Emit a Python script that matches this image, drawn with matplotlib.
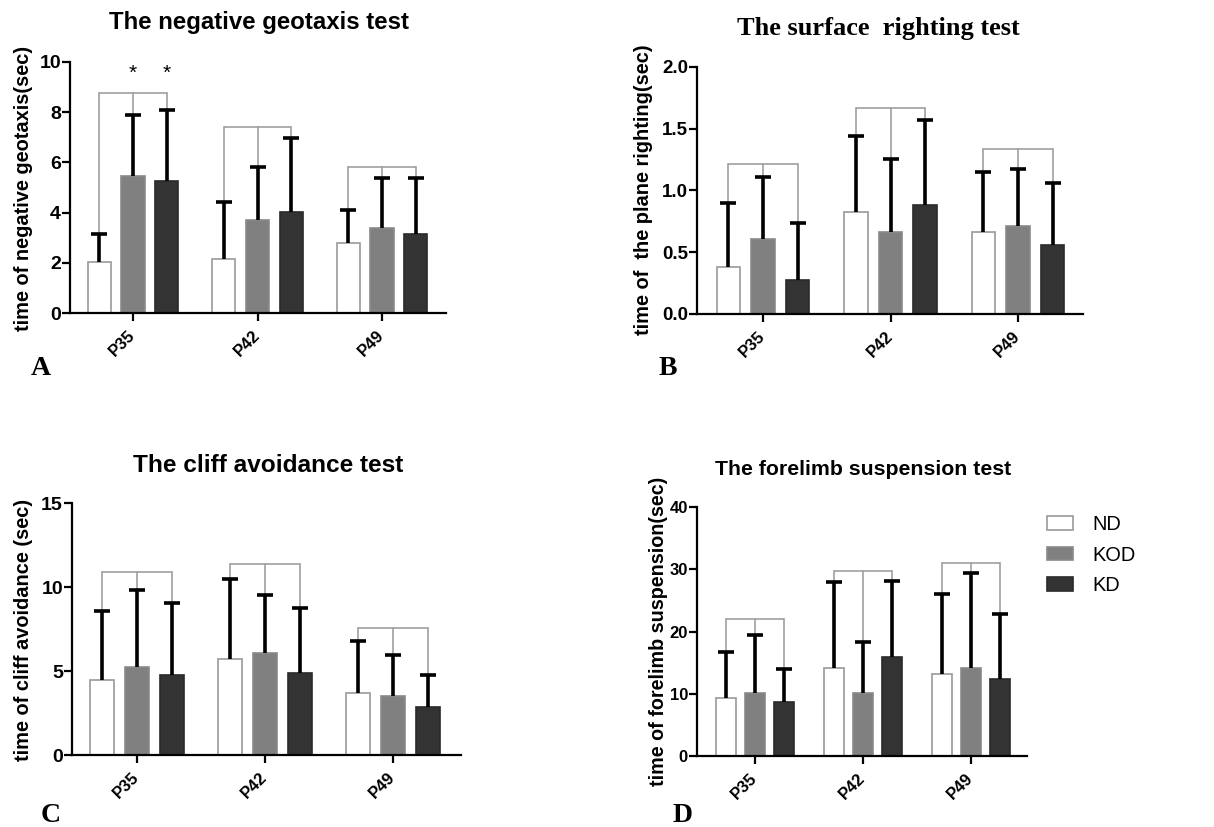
import numpy as np
import matplotlib
matplotlib.use("Agg")
import matplotlib.pyplot as plt
from matplotlib.patches import Patch

plt.rcParams['font.family'] = ['Liberation Sans', 'DejaVu Sans']

groups = ['P35', 'P42', 'P49']
series = ['ND', 'KOD', 'KD']

# Panel A: negative geotaxis
geo_mean = {'ND': [2.03, 2.16, 2.80], 'KOD': [5.47, 3.71, 3.37], 'KD': [5.25, 4.04, 3.15]}
geo_sd = {'ND': [1.12, 2.26, 1.29], 'KOD': [2.43, 2.09, 2.01], 'KD': [2.85, 2.92, 2.23]}
geo_bracket = [8.78, 7.42, 5.83]

# Panel B: surface righting
sr_mean = {'ND': [0.383, 0.827, 0.663], 'KOD': [0.609, 0.663, 0.714], 'KD': [0.275, 0.881, 0.556]}
sr_sd = {'ND': [0.512, 0.615, 0.485], 'KOD': [0.501, 0.596, 0.464], 'KD': [0.464, 0.688, 0.507]}
sr_bracket = [1.216, 1.668, 1.337]

# Panel C: cliff avoidance
ca_mean = {'ND': [4.47, 5.74, 3.72], 'KOD': [5.21, 6.10, 3.54], 'KD': [4.77, 4.87, 2.84]}
ca_sd = {'ND': [4.13, 4.73, 3.04], 'KOD': [4.59, 3.42, 2.42], 'KD': [4.27, 3.87, 1.93]}
ca_bracket = [10.89, 11.35, 7.53]

# Panel D: forelimb suspension
fs_mean = {'ND': [9.36, 14.12, 13.16], 'KOD': [10.11, 10.11, 14.12], 'KD': [8.61, 15.83, 12.41]}
fs_sd = {'ND': [7.32, 13.79, 12.88], 'KOD': [9.36, 8.13, 15.29], 'KD': [5.40, 12.30, 10.37]}
fs_bracket = [21.98, 29.79, 30.96]

star_marks = [('KOD', 0, 9.55), ('KD', 0, 9.55)]

colors = {'ND': '#ffffff', 'KOD': '#808080', 'KD': '#333333'}
edges = {'ND': '#9a9a9a', 'KOD': '#8a8a8a', 'KD': '#2a2a2a'}

W, H = 1214, 827
fig = plt.figure(figsize=(W / 100, H / 100), dpi=100)


def px_axes(l, t, r, b):
    return fig.add_axes([l / W, 1 - b / H, (r - l) / W, (b - t) / H])


def draw_panel(ax, means, sds, brackets, ylim, yticks, yticklabels, xlim, ytick_fs=14):
    x = np.arange(len(groups))
    off = 0.272
    width = 0.185
    for i, s in enumerate(series):
        xs = x + (i - 1) * off
        m = np.array(means[s])
        e = np.array(sds[s])
        bc = ax.bar(xs, m, width, color=colors[s], edgecolor=edges[s], linewidth=1.2, zorder=2,
                    yerr=[np.zeros_like(e), e],
                    error_kw=dict(ecolor='black', elinewidth=2.6, capsize=6, capthick=2.6, zorder=3))
        # hide the cap that sits on the bar top (only upper error shown)
        for cl in bc.errorbar.lines[1]:
            if np.allclose(cl.get_ydata(), m):
                cl.set_visible(False)
    for g in range(len(groups)):
        h = brackets[g]
        xs = g + (np.arange(3) - 1) * off
        ax.plot([xs[0], xs[2]], [h, h], color='#a0a0a0', lw=1.2, zorder=1, solid_capstyle='butt')
        for i, s in enumerate(series):
            top = means[s][g] + sds[s][g]
            ax.plot([xs[i], xs[i]], [top, h], color='#a0a0a0', lw=1.2, zorder=1)
    ax.set_xlim(*xlim)
    ax.set_ylim(*ylim)
    ax.set_yticks(yticks)
    ax.set_yticklabels(yticklabels, fontsize=ytick_fs, fontweight='bold')
    ax.set_xticks(x)
    ax.set_xticklabels(groups, rotation=45, ha='right', va='center', rotation_mode='anchor',
                       fontsize=12, fontweight='bold')
    for sp in ['top', 'right']:
        ax.spines[sp].set_visible(False)
    for sp in ['left', 'bottom']:
        ax.spines[sp].set_linewidth(1.6)
    ax.tick_params(axis='both', direction='out', length=5.5, width=1.6)
    ax.tick_params(axis='y', pad=1)
    ax.tick_params(axis='x', pad=9)
    ax.patch.set_alpha(0)


axA = px_axes(70, 62, 446, 313)
draw_panel(axA, geo_mean, geo_sd, geo_bracket, (0, 10), [0, 2, 4, 6, 8, 10],
           ['0', '2', '4', '6', '8', '10'], (-0.506, 2.514))
for s, g, yv in star_marks:
    axA.text(g + (series.index(s) - 1) * 0.272, yv, '*', ha='center', va='center', fontsize=15)

axB = px_axes(697, 67, 1083, 314)
draw_panel(axB, sr_mean, sr_sd, sr_bracket, (0, 2.0), [0, 0.5, 1.0, 1.5, 2.0],
           ['0.0', '0.5', '1.0', '1.5', '2.0'], (-0.518, 2.51), ytick_fs=13.5)

axC = px_axes(72, 503, 461, 755)
draw_panel(axC, ca_mean, ca_sd, ca_bracket, (0, 15), [0, 5, 10, 15],
           ['0', '5', '10', '15'], (-0.508, 2.53))

axD = px_axes(697, 507, 1027, 756)
draw_panel(axD, fs_mean, fs_sd, fs_bracket, (0, 40), [0, 10, 20, 30, 40],
           ['0', '10', '20', '30', '40'], (-0.537, 2.519), ytick_fs=12)

# Titles
fig.text(259 / W, 1 - 22 / H, 'The negative geotaxis test', ha='center', va='center',
         fontsize=17.3, fontweight='bold')
fig.text(878 / W, 1 - 29 / H, 'The surface  righting test', ha='center', va='center',
         fontsize=19, fontweight='bold', family=['Liberation Serif', 'DejaVu Serif'])
fig.text(268 / W, 1 - 465 / H, 'The cliff avoidance test', ha='center', va='center',
         fontsize=17.6, fontweight='bold')
fig.text(863 / W, 1 - 469 / H, 'The forelimb suspension test', ha='center', va='center',
         fontsize=15.3, fontweight='bold')

# Y labels
fig.text(24 / W, 1 - 188 / H, 'time of negative geotaxis(sec)', rotation=90, ha='center',
         va='center', fontsize=14.4, fontweight='bold')
fig.text(643 / W, 1 - 190 / H, 'time of  the plane righting(sec)', rotation=90, ha='center',
         va='center', fontsize=14.4, fontweight='bold')
fig.text(24 / W, 1 - 630 / H, 'time of cliff avoidance (sec)', rotation=90, ha='center',
         va='center', fontsize=14.4, fontweight='bold')
fig.text(659 / W, 1 - 631 / H, 'time of forelimb suspension(sec)', rotation=90, ha='center',
         va='center', fontsize=14.2, fontweight='bold')

# Panel letters
for letter, xp, yp in [('A', 41, 375), ('B', 668, 375), ('C', 51, 822), ('D', 683, 822)]:
    fig.text(xp / W, 1 - yp / H, letter, ha='center', va='baseline', fontsize=20,
             fontweight='bold', family=['Liberation Serif', 'DejaVu Serif'])

# Legend
handles = [Patch(facecolor=colors[s], edgecolor=edges[s], linewidth=1.2) for s in series]
fig.legend(handles, series, loc='upper left', bbox_to_anchor=(1047 / W, 1 - 515 / H),
           frameon=False, fontsize=14.4, handlelength=1.3, handleheight=0.68,
           handletextpad=0.95, labelspacing=0.58, borderpad=0, borderaxespad=0)

fig.savefig('out.png', dpi=100, facecolor='white')
